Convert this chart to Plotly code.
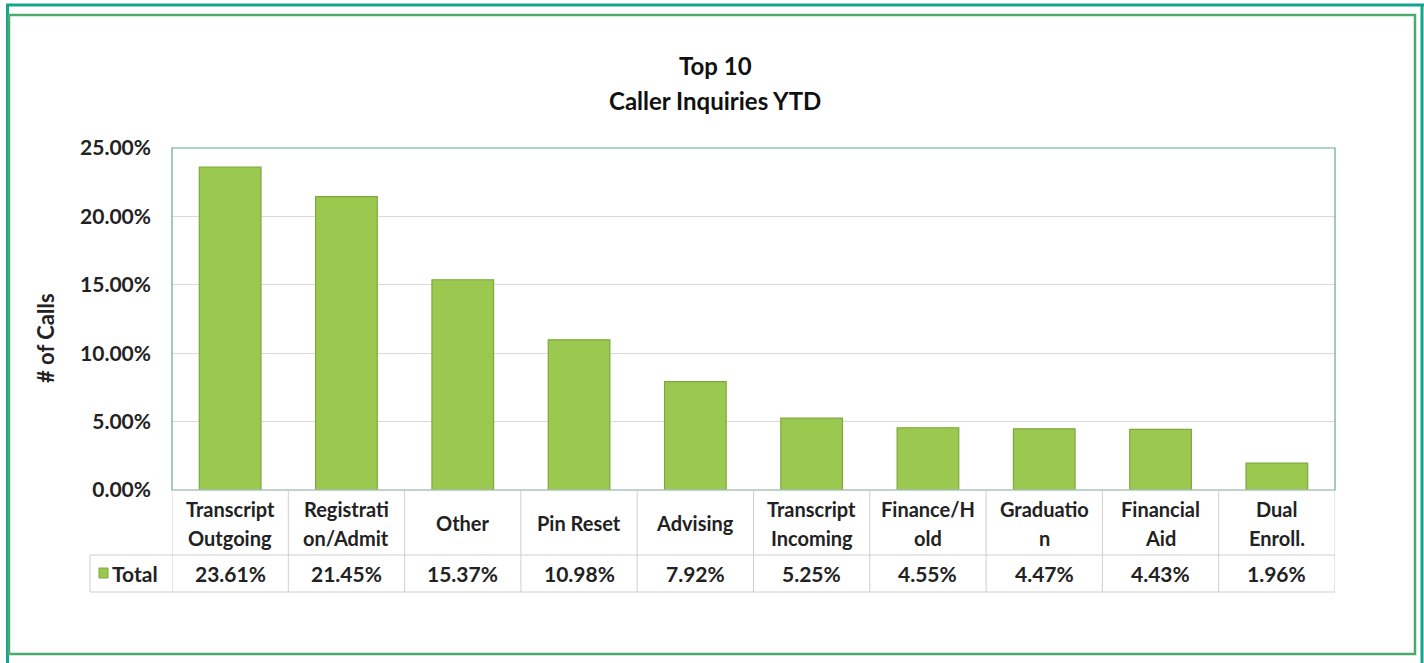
import plotly.graph_objects as go

categories = ["Transcript\nOutgoing", "Registrati\non/Admit", "Other", "Pin Reset", "Advising",
              "Transcript\nIncoming", "Finance/H\nold", "Graduatio\nn", "Financial\nAid", "Dual\nEnroll."]
values = [23.61, 21.45, 15.37, 10.98, 7.92, 5.25, 4.55, 4.47, 4.43, 1.96]
series_name = "Total"
y_ticks = [0, 5, 10, 15, 20, 25]

W, H = 1424, 663
L, R, T, B = 172, 1335, 148, 490
FONT = "Lato"
TXT = "#222222"
GREEN = "#9bc84f"


def px(x):
    return (x - L) / (R - L)


def py(y):
    return (B - y) / (B - T)


xs = list(range(len(categories)))
fig = go.Figure(go.Bar(
    x=xs, y=values, width=0.53,
    marker=dict(color=GREEN, line=dict(color="#7ea83c", width=1.2)),
    hoverinfo="y", showlegend=False,
))

shapes = []
annotations = []

# outer frames
shapes.append(dict(type="line", xref="paper", yref="paper", x0=px(6), x1=px(1424), y0=py(5), y1=py(5),
                   line=dict(color="#14a58e", width=3)))
shapes.append(dict(type="line", xref="paper", yref="paper", x0=px(7.5), x1=px(7.5), y0=py(5), y1=py(663),
                   line=dict(color="#14a58e", width=3)))
shapes.append(dict(type="line", xref="paper", yref="paper", x0=px(1422), x1=px(1422), y0=py(5), y1=py(663),
                   line=dict(color="#14a58e", width=3)))
shapes.append(dict(type="rect", xref="paper", yref="paper", x0=px(9), x1=px(1415), y0=py(15), y1=py(654),
                   line=dict(color="#4daa6e", width=2.5)))

# plot frame
shapes.append(dict(type="rect", xref="paper", yref="paper", x0=0, x1=1, y0=0, y1=1,
                   line=dict(color="#5fae84", width=1.2), layer="above"))

# data table
tcol = "#cfcfcf"
y_mid = py(555)
y_bot = py(592)
x_left = px(90)
shapes.append(dict(type="line", xref="paper", yref="paper", x0=0, x1=1, y0=0, y1=0, line=dict(color=tcol, width=1)))
for yy in (y_mid, y_bot):
    shapes.append(dict(type="line", xref="paper", yref="paper", x0=x_left, x1=1, y0=yy, y1=yy,
                       line=dict(color=tcol, width=1)))
shapes.append(dict(type="line", xref="paper", yref="paper", x0=x_left, x1=x_left, y0=y_mid, y1=y_bot,
                   line=dict(color=tcol, width=1)))
for i in range(len(categories) + 1):
    shapes.append(dict(type="line", xref="x", yref="paper", x0=i - 0.5, x1=i - 0.5, y0=0, y1=y_bot,
                       line=dict(color=tcol, width=1)))

# legend key
shapes.append(dict(type="rect", xref="paper", yref="paper", x0=px(99), x1=px(108), y0=py(578), y1=py(568),
                   fillcolor=GREEN, line=dict(color="#7ea83c", width=1)))
annotations.append(dict(xref="paper", yref="paper", x=px(110), y=py(573), text="<b>" + series_name + "</b>",
                        showarrow=False, xanchor="left", yanchor="middle",
                        font=dict(family=FONT, size=21, color=TXT)))

for i, (c, v) in enumerate(zip(categories, values)):
    lines = c.split("\n")
    if len(lines) == 1:
        annotations.append(dict(xref="x", yref="paper", x=i, y=py(523), text="<b>" + lines[0] + "</b>",
                                showarrow=False, xanchor="center", yanchor="middle",
                                font=dict(family=FONT, size=20, color=TXT)))
    else:
        for j, ln in enumerate(lines):
            annotations.append(dict(xref="x", yref="paper", x=i, y=py(509 + 29 * j), text="<b>" + ln + "</b>",
                                    showarrow=False, xanchor="center", yanchor="middle",
                                    font=dict(family=FONT, size=20, color=TXT)))
    annotations.append(dict(xref="x", yref="paper", x=i, y=py(573), text="<b>%.2f%%</b>" % v,
                            showarrow=False, xanchor="center", yanchor="middle",
                            font=dict(family=FONT, size=21, color=TXT)))

# titles
annotations.append(dict(xref="paper", yref="paper", x=px(715), y=py(65), text="<b>Top 10</b>",
                        showarrow=False, xanchor="center", yanchor="middle",
                        font=dict(family=FONT, size=24, color="#111111")))
annotations.append(dict(xref="paper", yref="paper", x=px(715), y=py(100), text="<b>Caller Inquiries YTD</b>",
                        showarrow=False, xanchor="center", yanchor="middle",
                        font=dict(family=FONT, size=24, color="#111111")))
annotations.append(dict(xref="paper", yref="paper", x=px(45), y=py(338), text="<b># of Calls</b>",
                        textangle=-90, showarrow=False, xanchor="center", yanchor="middle",
                        font=dict(family=FONT, size=22, color=TXT)))

fig.update_layout(
    width=W, height=H,
    margin=dict(l=L, r=W - R, t=T, b=H - B, pad=0),
    paper_bgcolor="white", plot_bgcolor="white",
    shapes=shapes, annotations=annotations,
    xaxis=dict(range=[-0.5, len(categories) - 0.5], showticklabels=False, showgrid=False,
               zeroline=False, ticks=""),
    yaxis=dict(range=[0, 25], tickvals=y_ticks, ticktext=["<b>%.2f%%</b>" % t for t in y_ticks],
               showgrid=True, gridcolor="#d9d9d9", gridwidth=1, zeroline=False, ticks="",
               ticklabelstandoff=20,
               tickfont=dict(family=FONT, size=21, color=TXT)),
)

fig.write_html("out.html", config={"displayModeBar": False},
               post_script="document.body.style.margin='0';")
